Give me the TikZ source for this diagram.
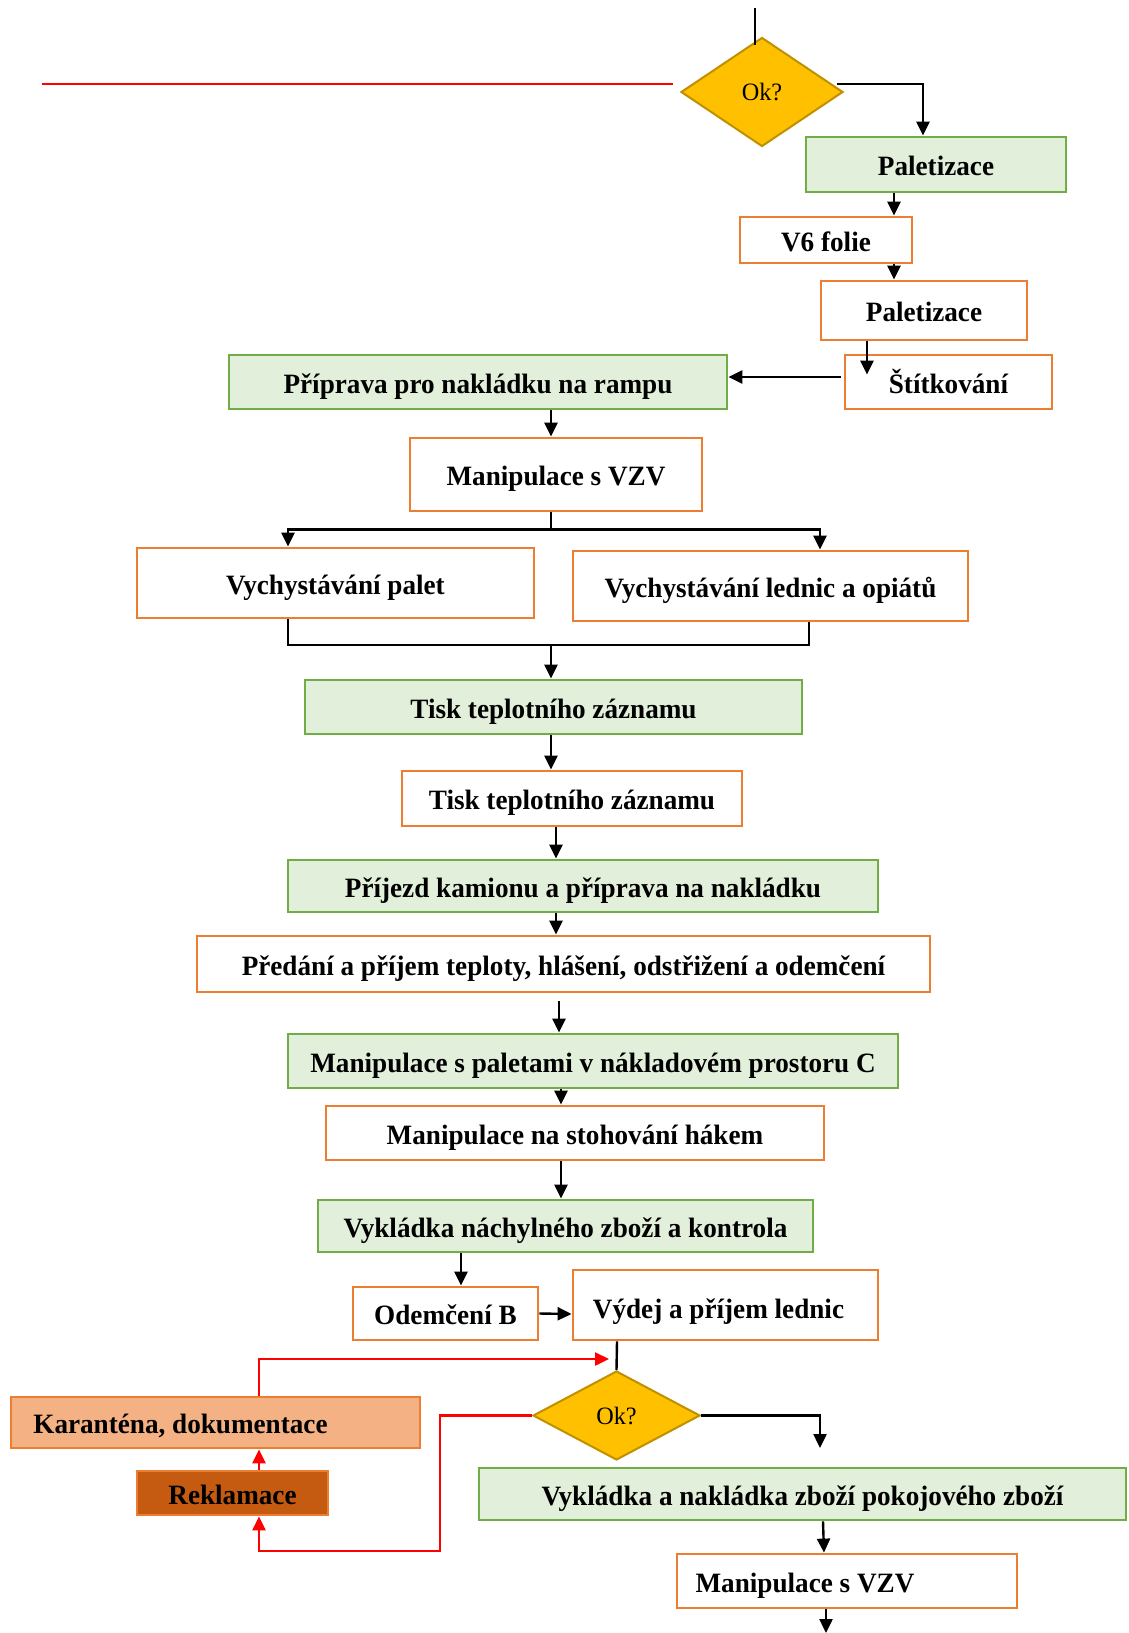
\documentclass[tikz,border=0pt]{standalone}
\usepackage{fontspec}
\setmainfont{Liberation Serif}[FakeStretch=0.97]
\usetikzlibrary{shapes.geometric,arrows.meta}
\definecolor{greenF}{HTML}{E2EFDA}
\definecolor{greenB}{HTML}{70AD47}
\definecolor{orangeB}{HTML}{ED7D31}
\definecolor{karF}{HTML}{F4B183}
\definecolor{reklF}{HTML}{C55A11}
\definecolor{diaF}{HTML}{FFC000}
\definecolor{diaB}{HTML}{BF9000}
\definecolor{redL}{HTML}{FF0000}
\tikzset{
  boxbase/.style={rectangle, line width=1.4pt, inner sep=0pt, text=black,
    text height=13pt, text depth=2pt,
    font=\fontsize{14}{16}\selectfont\bfseries},
  obox/.style={boxbase, draw=orangeB, fill=white},
  gbox/.style={boxbase, draw=greenB, fill=greenF},
  kbox/.style={boxbase, draw=orangeB, fill=karF},
  rbox/.style={boxbase, draw=orangeB, fill=reklF},
  decision/.style={diamond, draw=diaB, fill=diaF, line width=1pt, inner sep=0pt,
    font=\fontsize{12.5}{14}\selectfont},
  arr/.style={line width=1.2pt, draw=black, -{Triangle[length=7pt,width=6.5pt]}},
  plain/.style={line width=1.2pt, draw=black},
  redarr/.style={line width=1.2pt, draw=redL, -{Triangle[length=7pt,width=6.5pt]}},
  redline/.style={line width=1.2pt, draw=redL},
}
\begin{document}
\begin{tikzpicture}[x=0.5pt,y=-0.5pt]
\useasboundingbox (0,0) rectangle (1129,1633);
\fill[white] (0,0) rectangle (1129,1633);

% ---- boxes ----
\node[decision, minimum width=81pt, minimum height=54.5pt] (ok1) at (762,92) {Ok?};
\node[gbox, minimum width=130pt, minimum height=27.5pt] (pal1) at (936,164.5) {Paletizace};
\node[obox, minimum width=86pt, minimum height=23pt] (v6) at (826,240) {V6 folie};
\node[obox, minimum width=103pt, minimum height=29.5pt] (pal2) at (924,310.5) {Paletizace};
\node[obox, minimum width=103.5pt, minimum height=27pt] (stit) at (948.5,382) {Štítkování};
\node[gbox, minimum width=249pt, minimum height=27pt] (prip) at (478,382) {Příprava pro nakládku na rampu};
\node[obox, minimum width=146pt, minimum height=36.5pt] (man1) at (556,474.5) {Manipulace s VZV};
\node[obox, minimum width=198.5pt, minimum height=35pt] (vpal) at (335.5,583) {Vychystávání palet};
\node[obox, minimum width=197.5pt, minimum height=35pt] (vled) at (770.5,586) {Vychystávání lednic a opiátů};
\node[gbox, minimum width=248.5pt, minimum height=27pt] (tisk1) at (553.5,707) {Tisk teplotního záznamu};
\node[obox, minimum width=170pt, minimum height=27.5pt] (tisk2) at (572,798.5) {Tisk teplotního záznamu};
\node[gbox, minimum width=295pt, minimum height=26pt] (prij) at (583,886) {Příjezd kamionu a příprava na nakládku};
\node[obox, minimum width=366.5pt, minimum height=28pt] (pred) at (563.5,964) {Předání a příjem teploty, hlášení, odstřižení a odemčení};
\node[gbox, minimum width=305pt, minimum height=27pt] (manpal) at (593,1061) {Manipulace s paletami v nákladovém prostoru C};
\node[obox, minimum width=249pt, minimum height=27pt] (stoh) at (575,1133) {Manipulace na stohování hákem};
\node[gbox, minimum width=247.5pt, minimum height=26pt] (vykl1) at (565.5,1226) {Vykládka náchylného zboží a kontrola};
\node[obox, minimum width=92.5pt, minimum height=26.5pt] (odem) at (445.5,1313.5) {Odemčení B};
\node[obox, minimum width=152.5pt, minimum height=35pt, text height=15pt] (vydej) at (725.5,1305) {Výdej a příjem lednic\hspace*{7pt}};
\node[decision, minimum width=83.5pt, minimum height=44.5pt] (ok2) at (616.5,1415.5) {Ok?};
\node[gbox, minimum width=323.5pt, minimum height=26pt] (vykl2) at (802.5,1494) {Vykládka a nakládka zboží pokojového zboží};
\node[obox, minimum width=170pt, minimum height=27pt] (man2) at (847,1581) {Manipulace s VZV\hspace*{42pt}};
\node[kbox, minimum width=204.5pt, minimum height=25.5pt] (kar) at (215.5,1422.5) {Karanténa, dokumentace\hspace*{35pt}};
\node[rbox, minimum width=95.5pt, minimum height=22pt] (rekl) at (232.5,1493) {Reklamace};

% ---- free ends ----
\coordinate (topin) at (755,8);
\coordinate (topend) at (755,45);
\coordinate (redA) at (42,84);
\coordinate (redB) at (673,84);
\coordinate (mrg) at (551,645);
\coordinate (okdn) at (820,1448);
\coordinate (botout) at (826,1633);
\coordinate (rk1) at (440,1551);
\coordinate (rkin) at (609,1359);

% ---- black connectors ----
\draw[plain] (topin) -- (topend);
\draw[redline] (redA) -- (redB);
\draw[arr] ([yshift=4pt,xshift=-3.5pt]ok1.east) -| ([xshift=-6.5pt]pal1.north);
\draw[arr] ([xshift=-21pt]pal1.south) -- ([xshift=34pt]v6.north);
\draw[arr] ([xshift=34pt]v6.south) -- ([xshift=-15pt]pal2.north);
\draw[arr] ([xshift=-28.5pt]pal2.south) -- ([xshift=-40.75pt,yshift=-10.5pt]stit.north);
\draw[arr] ([xshift=-1.5pt,yshift=2.5pt]stit.west) -- ([yshift=2.5pt]prip.east);
\draw[arr] ([xshift=36.5pt]prip.south) -- ([xshift=-2.5pt]man1.north);
\draw[arr] ([xshift=-2.5pt]man1.south) -- ++(0,-8.5pt) -| ([xshift=-23.75pt]vpal.north);
\draw[arr] ([xshift=-2.5pt]man1.south) -- ++(0,-8.5pt) -| ([xshift=24.75pt]vled.north);
\draw[plain] ([xshift=-23.75pt]vpal.south) |- (mrg);
\draw[plain] ([xshift=19.25pt]vled.south) |- (mrg);
\draw[arr] (mrg) -- ([xshift=-1.25pt]tisk1.north);
\draw[arr] ([xshift=-1.25pt]tisk1.south) -- ([xshift=-10.5pt]tisk2.north);
\draw[arr] ([xshift=-8pt]tisk2.south) -- ([xshift=-13.5pt]prij.north);
\draw[arr] ([xshift=-13.5pt]prij.south) -- ([xshift=-3.75pt]pred.north);
\draw[arr] ([xshift=-2.25pt,yshift=-4pt]pred.south) -- ([xshift=-17pt]manpal.north);
\draw[arr] ([xshift=-16pt]manpal.south) -- ([xshift=-7pt]stoh.north);
\draw[arr] ([xshift=-7pt]stoh.south) -- ([xshift=-2.25pt]vykl1.north);
\draw[arr] ([xshift=-52.25pt]vykl1.south) -- ([xshift=7.75pt]odem.north);
\draw[arr] (odem.east) -- ([yshift=-4.5pt]vydej.west);
\draw[plain] ([xshift=-54.25pt]vydej.south) -- (ok2.north);
\draw[arr] (ok2.east) -| (okdn);
\draw[arr] ([xshift=10.25pt]vykl2.south) -- ([xshift=-11.5pt]man2.north);
\draw[arr] ([xshift=-10.5pt]man2.south) -- (botout);

% ---- red return loop ----
\draw[redarr] (ok2.west) -| (rk1) -| ([xshift=13.25pt]rekl.south);
\draw[redarr] ([xshift=13.25pt]rekl.north) -- ([xshift=21.75pt]kar.south);
\draw[redarr] ([xshift=21.75pt]kar.north) |- (rkin);
\end{tikzpicture}
\end{document}
